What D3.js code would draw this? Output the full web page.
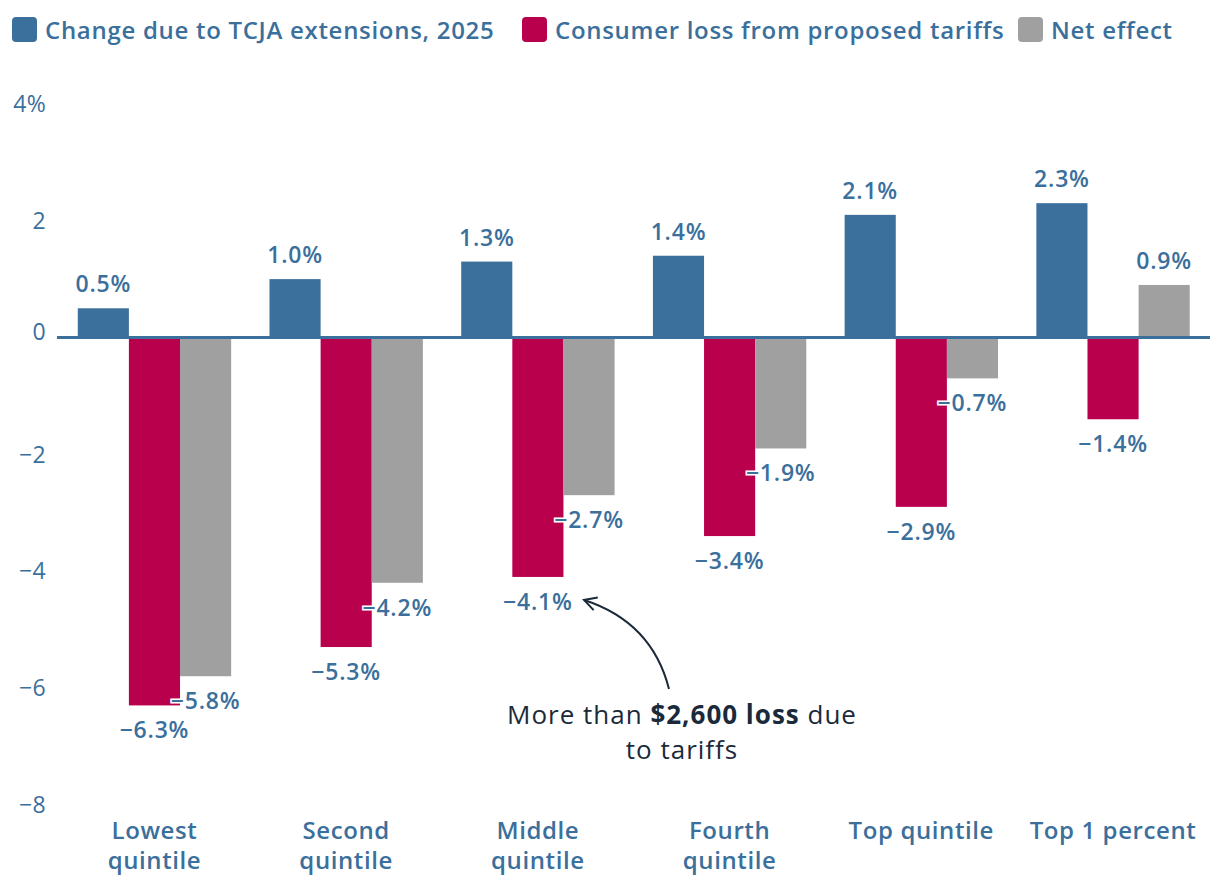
<!DOCTYPE html>
<html>
<head>
<meta charset="utf-8">
<script src="https://cdn.jsdelivr.net/npm/d3@7"></script>
<style>
  html, body { margin: 0; padding: 0; background: #ffffff; }
  svg { display: block; }
  text { font-family: "Open Sans", "Noto Sans", sans-serif; }
</style>
</head>
<body>
<svg id="chart" width="1220" height="890"></svg>
<script>
// ---- data ----
const categories = ["Lowest quintile", "Second quintile", "Middle quintile", "Fourth quintile", "Top quintile", "Top 1 percent"];
const categoryLines = [["Lowest", "quintile"], ["Second", "quintile"], ["Middle", "quintile"], ["Fourth", "quintile"], ["Top quintile"], ["Top 1 percent"]];
const seriesNames = ["Change due to TCJA extensions, 2025", "Consumer loss from proposed tariffs", "Net effect"];
const tcja = [0.5, 1.0, 1.3, 1.4, 2.1, 2.3];
const tariffs = [-6.3, -5.3, -4.1, -3.4, -2.9, -1.4];
const net = [-5.8, -4.2, -2.7, -1.9, -0.7, 0.9];
const yTicks = [4, 2, 0, -2, -4, -6, -8];
const yTickLabels = ["4%", "2", "0", "\u22122", "\u22124", "\u22126", "\u22128"];
const colors = ["#3b6f9c", "#b8004c", "#a0a0a0"];
const annotationLine1 = [["More than ", false], ["$2,600 loss", true], [" due", false]];
const annotationLine2 = "to tariffs";

const svg = d3.select("#chart");
const textColor = "#3b6f9c";

const x = d3.scaleBand().domain(categories).range([58.6, 1208.9]).paddingInner(0.2).paddingOuter(0.1);
const xs = d3.scaleBand().domain([0, 1, 2]).range([0, x.bandwidth()]);
const y = d3.scaleLinear().domain([-8, 4]).range([804.7, 103.9]);

const seriesData = [tcja, tariffs, net];

// y axis
const yAxis = d3.axisLeft(y).tickValues(yTicks).tickSize(0).tickPadding(0)
  .tickFormat((d, i) => yTickLabels[i]);
const yg = svg.append("g").attr("transform", "translate(46,0)").call(yAxis);
yg.select(".domain").remove();
yg.selectAll("text")
  .attr("fill", textColor)
  .style("font-family", "'Open Sans', sans-serif")
  .style("font-size", "23px")
  .style("font-weight", "400")
  .style("letter-spacing", "0.3px")
  .attr("dy", d => d === 0 ? "0.1em" : "0.34em");

// bars
const groups = svg.append("g").selectAll("g.grp")
  .data(categories).join("g")
  .attr("class", "grp")
  .attr("transform", d => `translate(${x(d)},0)`);

seriesData.forEach((vals, si) => {
  groups.append("rect")
    .attr("x", xs(si))
    .attr("width", xs.bandwidth())
    .attr("y", (d, i) => y(Math.max(0, vals[i])))
    .attr("height", (d, i) => Math.abs(y(vals[i]) - y(0)))
    .attr("fill", colors[si]);
});

// zero line
svg.append("line")
  .attr("x1", 57).attr("x2", 1210)
  .attr("y1", y(0)).attr("y2", y(0))
  .attr("stroke", "#3b6f9c").attr("stroke-width", 3);

// value labels
const fmt = v => (v < 0 ? "\u2212" : "") + Math.abs(v).toFixed(1) + "%";
seriesData.forEach((vals, si) => {
  groups.append("text")
    .attr("x", xs(si) + xs.bandwidth() / 2)
    .attr("y", (d, i) => vals[i] >= 0 ? y(vals[i]) - 16 : y(vals[i]) + 33)
    .attr("text-anchor", "middle")
    .attr("fill", textColor)
    .attr("stroke", "#ffffff")
    .attr("stroke-width", 3)
    .attr("paint-order", "stroke")
    .style("font-size", "23px")
    .style("font-weight", "600")
    .style("letter-spacing", "0.8px")
    .text((d, i) => fmt(vals[i]));
});

// category labels
groups.each(function(d, i) {
  const g = d3.select(this);
  const t = g.append("text")
    .attr("text-anchor", "middle")
    .attr("fill", textColor)
    .style("font-size", "24px")
    .style("font-weight", "600")
    .style("letter-spacing", "0.6px");
  categoryLines[i].forEach((line, li) => {
    t.append("tspan")
      .attr("x", x.bandwidth() / 2)
      .attr("y", 839 + li * 30)
      .text(line);
  });
});

// legend
const legendX = [12, 522, 1018];
const legend = svg.append("g");
seriesNames.forEach((name, i) => {
  legend.append("rect")
    .attr("x", legendX[i]).attr("y", 17)
    .attr("width", 25).attr("height", 25)
    .attr("rx", 4).attr("fill", colors[i]);
  legend.append("text")
    .attr("x", legendX[i] + 33).attr("y", 38.5)
    .attr("fill", textColor)
    .style("font-size", "24px")
    .style("font-weight", "600")
    .style("letter-spacing", "0.7px")
    .text(name);
});

// annotation (two separate lines)
const annStyle = sel => sel
  .attr("text-anchor", "middle")
  .attr("fill", "#1b2a3a")
  .style("font-size", "26px")
  .style("font-weight", "400")
  .style("letter-spacing", "1px");
const ann1 = svg.append("text").call(annStyle).attr("x", 682).attr("y", 724);
annotationLine1.forEach(([s, b]) => {
  ann1.append("tspan").style("font-weight", b ? "700" : "400").text(s);
});
svg.append("text").call(annStyle).attr("x", 682).attr("y", 759).text(annotationLine2);

// arrow
const start = [669, 689], ctrl = [652, 622], end = [584, 600];
svg.append("path")
  .attr("d", `M${start[0]},${start[1]} Q${ctrl[0]},${ctrl[1]} ${end[0]},${end[1]}`)
  .attr("fill", "none").attr("stroke", "#1b2a3a").attr("stroke-width", 2);
const ang = Math.atan2(end[1] - ctrl[1], end[0] - ctrl[0]);
const hl = 14, ha = 0.5;
svg.append("path")
  .attr("d", `M${end[0] - hl * Math.cos(ang - ha)},${end[1] - hl * Math.sin(ang - ha)} L${end[0]},${end[1]} L${end[0] - hl * Math.cos(ang + ha)},${end[1] - hl * Math.sin(ang + ha)}`)
  .attr("fill", "none").attr("stroke", "#1b2a3a").attr("stroke-width", 2)
  .attr("stroke-linejoin", "miter");
</script>
</body>
</html>
